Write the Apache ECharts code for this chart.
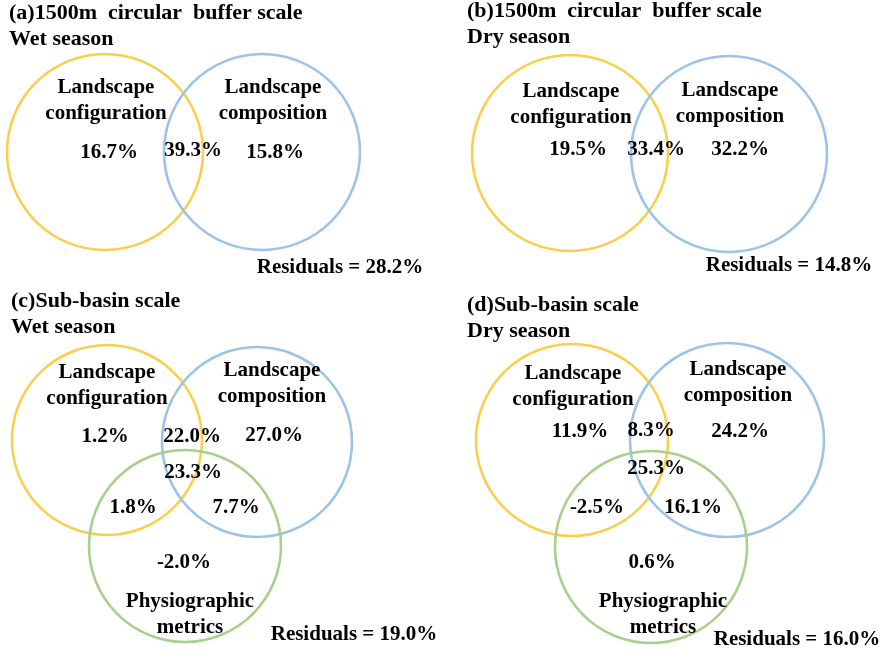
<!DOCTYPE html>
<html>
<head>
<meta charset="utf-8">
<script src="https://cdn.jsdelivr.net/npm/echarts@6/dist/echarts.min.js"></script>
<style>
  html, body { margin: 0; padding: 0; background: #fff; }
  #main { width: 886px; height: 651px; }
</style>
</head>
<body>
<div id="main"></div>
<script>
// 数据
const panelTitles = [
    '(a)1500m  circular  buffer scale\nWet season',
    '(b)1500m  circular  buffer scale\nDry season',
    '(c)Sub-basin scale\nWet season',
    '(d)Sub-basin scale\nDry season'
];
const setNames = ['Landscape\nconfiguration', 'Landscape\ncomposition', 'Physiographic\nmetrics'];
// config, config∩comp, comp
const bufferWet = [16.7, 39.3, 15.8];
const bufferDry = [19.5, 33.4, 32.2];
// config, config∩comp, comp, all three, config∩phys, comp∩phys, phys
const basinWet = [1.2, 22.0, 27.0, 23.3, 1.8, 7.7, -2.0];
const basinDry = [11.9, 8.3, 24.2, 25.3, -2.5, 16.1, 0.6];
const residuals = [28.2, 14.8, 19.0, 16.0];
const panelValues = [bufferWet, bufferDry, basinWet, basinDry];

// 布局 (图内坐标)
const circleColors = ['#F8CF4F', '#9EC3E8', '#A8D08D'];
const circleLayout = [
    [[105, 152, 98], [262, 152, 98]],
    [[570, 153, 98], [729, 154, 98]],
    [[107, 440, 95], [257, 442, 95], [185, 546, 96]],
    [[572, 440, 96], [727, 440, 97], [651, 547, 96]]
];
const nameLayout = [
    [[106, 101], [273, 101]],
    [[571, 105], [730, 104]],
    [[107, 386], [272, 384], [190, 615]],
    [[573, 387], [738, 383], [663, 615]]
];
const valueLayout = [
    [[109, 153], [193, 151], [275, 153]],
    [[578, 150], [656, 150], [740, 150]],
    [[105, 437], [192, 437], [274, 436], [193, 473], [133, 508], [236, 508], [184, 563]],
    [[580, 432], [651, 431], [740, 432], [656, 469], [597, 508], [693, 508], [652, 563]]
];
const residualLayout = [[340, 268], [789, 266], [354, 635], [797, 640]];
const titleLayout = [[9, 0], [467, -2], [11, 288], [467, 292]];

const fontFamily = '"Liberation Serif", "Times New Roman", serif';

let circles = [];
circleLayout.forEach(panel => {
    panel.forEach((c, i) => circles.push([c[0], c[1], c[2], i]));
});

let labels = [];
nameLayout.forEach(panel => {
    panel.forEach((p, i) => labels.push({value: [p[0], p[1]], text: setNames[i]}));
});
valueLayout.forEach((panel, k) => {
    panel.forEach((p, i) => labels.push({value: [p[0], p[1]], text: panelValues[k][i].toFixed(1) + '%'}));
});
residualLayout.forEach((p, k) => {
    labels.push({value: [p[0], p[1]], text: 'Residuals = ' + residuals[k].toFixed(1) + '%'});
});

let chart = echarts.init(document.getElementById('main'));
let option = {
    animation: false,
    backgroundColor: '#fff',
    title: panelTitles.map((t, k) => ({
        text: t,
        left: titleLayout[k][0],
        top: titleLayout[k][1],
        padding: 0,
        textStyle: {
            fontFamily: fontFamily,
            fontWeight: 'bold',
            fontSize: 22,
            lineHeight: 26,
            color: '#000'
        }
    })),
    grid: {left: 0, right: 0, top: 0, bottom: 0},
    xAxis: {type: 'value', min: 0, max: 886, show: false},
    yAxis: {type: 'value', min: 0, max: 651, inverse: true, show: false},
    series: [
        {
            type: 'custom',
            data: circles,
            renderItem: (params, api) => {
                let c = api.coord([api.value(0), api.value(1)]);
                let r = api.size([api.value(2), 0])[0];
                return {
                    type: 'circle',
                    shape: {cx: c[0], cy: c[1], r: r},
                    style: {fill: 'none', stroke: circleColors[api.value(3)], lineWidth: 2.6}
                };
            },
            z: 1
        },
        {
            type: 'custom',
            data: labels,
            renderItem: (params, api) => {
                let c = api.coord([api.value(0), api.value(1)]);
                return {
                    type: 'text',
                    x: c[0],
                    y: c[1],
                    style: {
                        text: labels[params.dataIndex].text,
                        fontFamily: fontFamily,
                        fontWeight: 'bold',
                        fontSize: 21,
                        lineHeight: 26,
                        fill: '#000',
                        align: 'center',
                        verticalAlign: 'middle'
                    }
                };
            },
            z: 2
        }
    ]
};
chart.setOption(option);
</script>
</body>
</html>
